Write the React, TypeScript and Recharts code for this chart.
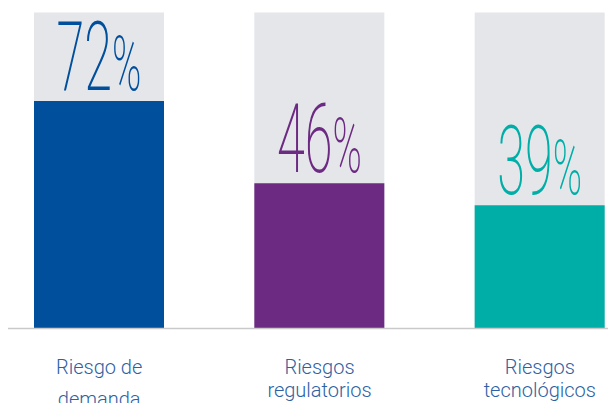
import { BarChart, Bar, XAxis, YAxis, Cell, LabelList } from 'recharts';

const categories = ['Riesgo de\ndemanda', 'Riesgos\nregulatorios', 'Riesgos\ntecnológicos'];
const values = [72, 46, 39];
const barColors = ['#004f9c', '#6c2a83', '#00aea8'];

// the first label sits its second line a little lower in the source
const secondLineGap = [32, 23, 23];

const data = categories.map((name, i) => ({ name, value: values[i], color: barColors[i] }));

const CategoryTick = ({ x, y, payload, index }: any) => {
    const lines = String(payload.value).split('\n');
    return (
        <text x={x} y={y} textAnchor="middle" fill="#2c62a3" fontFamily="Roboto, sans-serif" fontWeight={300} fontSize={20}>
            {lines.map((line, i) => (
                <tspan key={i} x={x} dy={i === 0 ? 37 : secondLineGap[index] ?? 23}>{line}</tspan>
            ))}
        </text>
    );
};

const BigValue = ({ x, y, width, value, index }: any) => {
    const cx = x + width / 2;
    return (
        <g transform={`translate(${cx},${y - 11}) scale(0.52,1)`}>
            <text x={0} y={0} textAnchor="middle" fill={barColors[index]} fontFamily="Roboto, sans-serif" fontWeight={200} fontSize={97}>
                {value}
                <tspan fontSize={76}>%</tspan>
            </text>
        </g>
    );
};

export default function App() {
    return (
        <BarChart
            width={608}
            height={395}
            data={data}
            margin={{ top: 4.5, right: -34, bottom: 0, left: -19 }}
        >
            <YAxis hide domain={[0, 100]} />
            <XAxis
                dataKey="name"
                height={74.5}
                tickLine={false}
                axisLine={{ stroke: '#c9c9c9', strokeWidth: 1.5 }}
                tick={<CategoryTick />}
                interval={0}
            />
            <Bar dataKey="value" barSize={130} background={{ fill: '#e5e6ea' }} isAnimationActive={false}>
                {data.map((entry, index) => (
                    <Cell key={`cell-${index}`} fill={entry.color} />
                ))}
                <LabelList dataKey="value" content={<BigValue />} />
            </Bar>
        </BarChart>
    );
}
